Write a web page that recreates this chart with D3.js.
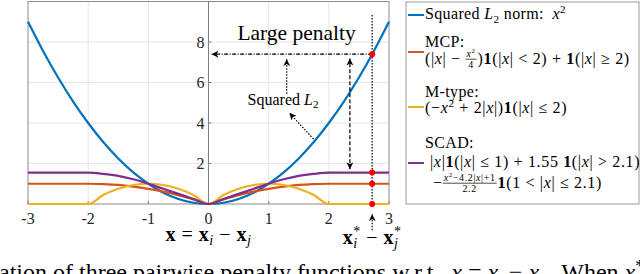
<!DOCTYPE html>
<html>
<head>
<meta charset="utf-8">
<script src="https://cdn.jsdelivr.net/npm/d3@7"></script>
<style>
html,body{margin:0;padding:0;background:#fff;overflow:hidden}
svg{display:block;font-family:"Liberation Serif","DejaVu Serif",serif}
</style>
</head>
<body>
<svg id="chart" width="640" height="274"></svg>
<script>
// values, x = xi - xj
var xVals = [-3,-2.75,-2.5,-2.25,-2,-1.75,-1.5,-1.25,-1,-0.75,-0.5,-0.25,0,0.25,0.5,0.75,1,1.25,1.5,1.75,2,2.25,2.5,2.75,3]
var squaredVals = [9,7.56,6.25,5.06,4,3.06,2.25,1.56,1,0.56,0.25,0.06,0,0.06,0.25,0.56,1,1.56,2.25,3.06,4,5.06,6.25,7.56,9]
var mcpVals = [1,1,1,1,1,0.98,0.94,0.86,0.75,0.61,0.44,0.23,0,0.23,0.44,0.61,0.75,0.86,0.94,0.98,1,1,1,1,1]
var mtypeVals = [0,0,0,0,0,0.44,0.75,0.94,1,0.94,0.75,0.44,0,0.44,0.75,0.94,1,0.94,0.75,0.44,0,0,0,0,0]
var scadVals = [1.55,1.55,1.55,1.55,1.55,1.49,1.39,1.22,1,0.75,0.5,0.25,0,0.25,0.5,0.75,1,1.22,1.39,1.49,1.55,1.55,1.55,1.55,1.55]

var xTicks = [-3,-2,-1,0,1,2,3]
var xTickLabels = ['-3','-2','-1','0','1','2','3']
var yTicks = [2,4,6,8]

// x* marker and the penalty values hit there
var xStar = 2.72
var starVals = [7.4, 1.55, 1, 0]

var colors = { squared:'#0072BD', mcp:'#D95319', mtype:'#EDB120', scad:'#7E2F8E' }

var svg = d3.select('#chart')

var x = d3.scaleLinear().domain([-3,3]).range([28,389])
var y = d3.scaleLinear().domain([0,10]).range([204,1.5])

// defs: arrow heads
var defs = svg.append('defs')
defs.append('marker')
	.attr('id','arr')
	.attr('viewBox','0 0 10 10')
	.attr('refX',10).attr('refY',5)
	.attr('markerWidth',7).attr('markerHeight',7)
	.attr('markerUnits','userSpaceOnUse')
	.attr('orient','auto-start-reverse')
	.append('path').attr('d','M0,0 L10,5 L0,10 L3,5 Z').attr('fill','#000')

// grid
var grid = svg.append('g')
grid.selectAll('line.gx').data(xTicks.filter(function(d){ return d > -3 && d < 3 && d !== 0 }))
	.enter().append('line')
	.attr('x1',function(d){ return x(d) }).attr('x2',function(d){ return x(d) })
	.attr('y1',y(0)).attr('y2',y(10))
	.attr('stroke','#e6e6e6').attr('stroke-width',1)
grid.selectAll('line.gy').data(yTicks)
	.enter().append('line')
	.attr('x1',x(-3)).attr('x2',x(3))
	.attr('y1',function(d){ return y(d) }).attr('y2',function(d){ return y(d) })
	.attr('stroke','#e6e6e6').attr('stroke-width',1)

// box + y axis at origin
svg.append('rect')
	.attr('x',x(-3)).attr('y',y(10))
	.attr('width',x(3)-x(-3)).attr('height',y(0)-y(10))
	.attr('fill','none').attr('stroke','#8c8c8c').attr('stroke-width',1)
svg.append('line')
	.attr('x1',x(0)).attr('x2',x(0)).attr('y1',y(0)).attr('y2',y(10))
	.attr('stroke','#808080').attr('stroke-width',1)

// tick marks
svg.selectAll('line.tx').data(xTicks).enter().append('line')
	.attr('x1',function(d){ return x(d) }).attr('x2',function(d){ return x(d) })
	.attr('y1',y(0)).attr('y2',y(0)-3)
	.attr('stroke','#808080')
svg.selectAll('line.ty').data(yTicks).enter().append('line')
	.attr('x1',x(0)).attr('x2',x(0)+3)
	.attr('y1',function(d){ return y(d) }).attr('y2',function(d){ return y(d) })
	.attr('stroke','#808080')

// tick labels
svg.selectAll('text.xt').data(xTicks).enter().append('text')
	.attr('x',function(d){ return x(d) }).attr('y',y(0)+20)
	.attr('text-anchor','middle').attr('font-size',16).attr('fill','#262626')
	.text(function(d,i){ return xTickLabels[i] })
svg.selectAll('text.yt').data(yTicks).enter().append('text')
	.attr('x',x(0)-4).attr('y',function(d){ return y(d)+5.5 })
	.attr('text-anchor','end').attr('font-size',16).attr('fill','#262626')
	.text(function(d){ return d })

// curves
var series = [
	{ vals: squaredVals, color: colors.squared },
	{ vals: mcpVals, color: colors.mcp },
	{ vals: mtypeVals, color: colors.mtype },
	{ vals: scadVals, color: colors.scad }
]
var line = d3.line()
	.x(function(d){ return x(d[0]) })
	.y(function(d){ return y(d[1]) })
	.curve(d3.curveMonotoneX)

series.forEach(function(s){
	svg.append('path')
		.datum(xVals.map(function(v,i){ return [v, s.vals[i]] }))
		.attr('d',line)
		.attr('fill','none')
		.attr('stroke',s.color)
		.attr('stroke-width',2.2)
})

// ---- annotations ----
function arrow(x1,y1,x2,y2,dash,both){
	var l = svg.append('line')
		.attr('x1',x(x1)).attr('y1',y(y1))
		.attr('x2',x(x2)).attr('y2',y(y2))
		.attr('stroke','#000').attr('stroke-width',1.2)
		.attr('stroke-dasharray',dash)
		.attr('marker-end','url(#arr)')
	if(both) l.attr('marker-start','url(#arr)')
	return l
}

// vertical dotted line at x*
svg.append('line')
	.attr('x1',x(xStar)).attr('x2',x(xStar))
	.attr('y1',y(9.33)).attr('y2',y(0))
	.attr('stroke','#000').attr('stroke-width',1.2).attr('stroke-dasharray','1.5,1.5')

// dash-dot line from x*^2 to the y axis
arrow(xStar, starVals[0], 0.05, starVals[0], '4,1.5,1,1.5')
// big dashed double arrow
arrow(2.35, 1.72, 2.35, 7.18, '4,2', true)
// dotted arrow from label up
arrow(1.3, 5.45, 1.3, 7.15, '1.5,1.5')
// dotted arrow from curve to label
arrow(1.745, 3.21, 1.345, 4.49, '1.5,1.5')
// little up arrow under the axis
arrow(xStar, -1.3, xStar, -0.5, '1.5,1.5')

svg.selectAll('circle.star').data(starVals).enter().append('circle')
	.attr('cx',x(xStar)).attr('cy',function(d){ return y(d) })
	.attr('r',3).attr('fill','#ff0000')

svg.append('text')
	.attr('x',x(0.48)).attr('y',y(8.1))
	.attr('font-size',21.5)
	.text('Large penalty')

// ---- math text helpers ----
function run(parent, px, py, str, fs, flags){
	flags = flags || ''
	var size = fs, dy = 0
	if(flags.indexOf('_') >= 0){ size = fs*0.7; dy = fs*0.22 }
	if(flags.indexOf('^') >= 0){ size = fs*0.7; dy = -fs*0.38 }
	var t = parent.append('text')
		.attr('x',px).attr('y',py+dy)
		.attr('font-size',size)
		.style('white-space','pre')
		.text(str)
	if(flags.indexOf('I') >= 0) t.attr('font-style','italic')
	if(flags.indexOf('B') >= 0) t.attr('font-weight','bold')
	return t.node().getComputedTextLength()
}

function mathLine(parent, px, py, fs, items){
	var cur = px
	items.forEach(function(it){
		if(it.frac){
			var k = fs*0.62
			var gn = parent.append('g'), gd = parent.append('g')
			var wn = mathLine(gn, 0, 0, k, it.frac[0])
			var wd = mathLine(gd, 0, 0, k, it.frac[1])
			var w = Math.max(wn, wd) + 2
			gn.attr('transform','translate(' + (cur + (w-wn)/2) + ',' + (py - fs*0.45) + ')')
			gd.attr('transform','translate(' + (cur + (w-wd)/2) + ',' + (py + fs*0.25) + ')')
			parent.append('line')
				.attr('x1',cur).attr('x2',cur+w)
				.attr('y1',py-fs*0.3).attr('y2',py-fs*0.3)
				.attr('stroke','#000').attr('stroke-width',0.7)
			cur += w + 1
		}
		else if(it.subsup){
			var a = run(parent, cur, py, it.subsup[0], fs, '_I')
			var b = run(parent, cur, py, it.subsup[1], fs, '^')
			cur += Math.max(a,b)
		}
		else {
			cur += run(parent, cur, py, it[0], fs, it[1])
		}
	})
	return cur - px
}

// "Squared L2" label
mathLine(svg, x(0.65), y(4.89), 16, [['Squared ',''],['L','I'],['2','_']])

// x axis labels
var xl = svg.append('g').style('letter-spacing','0.5px')
var wxl = mathLine(xl, 0, 0, 20, [['x','B'],[' = ',''],['x','B'],['i','_I'],[' − ',''],['x','B'],['j','_I']])
xl.attr('transform','translate(' + (x(0) - wxl/2) + ',' + (y(0)+37) + ')')

var xs = svg.append('g').style('letter-spacing','0.5px')
var wxs = mathLine(xs, 0, 0, 20, [['x','B'],{subsup:['i','*']},[' − ',''],['x','B'],{subsup:['j','*']}])
xs.attr('transform','translate(' + (x(xStar) - wxs/2) + ',' + (y(0)+40) + ')')

// ---- legend ----
var lg = svg.append('g')
lg.append('rect')
	.attr('x',406).attr('y',2).attr('width',233).attr('height',202)
	.attr('fill','#fff').attr('stroke','#999').attr('stroke-width',1)

var legendRows = [
	{ color: colors.squared, lineY: 15 },
	{ color: colors.mcp, lineY: 52 },
	{ color: colors.mtype, lineY: 107 },
	{ color: colors.scad, lineY: 163 }
]
lg.selectAll('line.key').data(legendRows).enter().append('line')
	.attr('x1',408).attr('x2',424)
	.attr('y1',function(d){ return d.lineY }).attr('y2',function(d){ return d.lineY })
	.attr('stroke',function(d){ return d.color }).attr('stroke-width',2)

var fs = 16
var lt = lg.append('g').style('letter-spacing','0.35px')
mathLine(lt, 425, 19, fs, [['Squared ',''],['L','I'],['2','_'],[' norm:  ',''],['x','I'],['2','^']])
mathLine(lt, 425, 47, fs, [['MCP:','']])
mathLine(lt, 425, 97, fs, [['M-type:','']])
mathLine(lt, 425, 148, fs, [['SCAD:','']])

var lf = lg.append('g').style('letter-spacing','0.65px')
mathLine(lf, 425, 64, fs, [['(|',''],['x','I'],['| − ',''],
	{frac:[[['x','I'],['2','^']],[['4','']]]},
	[')',''],['1','B'],['(|',''],['x','I'],['| < 2) + ',''],['1','B'],['(|',''],['x','I'],['| ≥ 2)','']])
mathLine(lf, 425, 113, fs, [['(−',''],['x','I'],['2','^'],[' + 2|',''],['x','I'],['|)',''],['1','B'],['(|',''],['x','I'],['| ≤ 2)','']])
mathLine(lf, 430, 167, fs, [['|',''],['x','I'],['|',''],['1','B'],['(|',''],['x','I'],['| ≤ 1) + 1.55 ',''],['1','B'],['(|',''],['x','I'],['| > 2.1)','']])
mathLine(lf, 433, 188, fs, [['−',''],
	{frac:[[['x','I'],['2','^'],['−4.2|',''],['x','I'],['|+1','']],[['2.2','']]]},
	['1','B'],['(1 < |',''],['x','I'],['| ≤ 2.1)','']])

// ---- caption (cut off at the bottom of the figure) ----
mathLine(svg, -1, 280, 24, [['ation of three pairwise penalty functions w.r.t.  ',''],['x','I'],[' = ',''],['x','I'],['i','_I'],[' − ',''],['x','I'],['j','_I'],['.  When ',''],['x','I'],['*','^']])
</script>
</body>
</html>
